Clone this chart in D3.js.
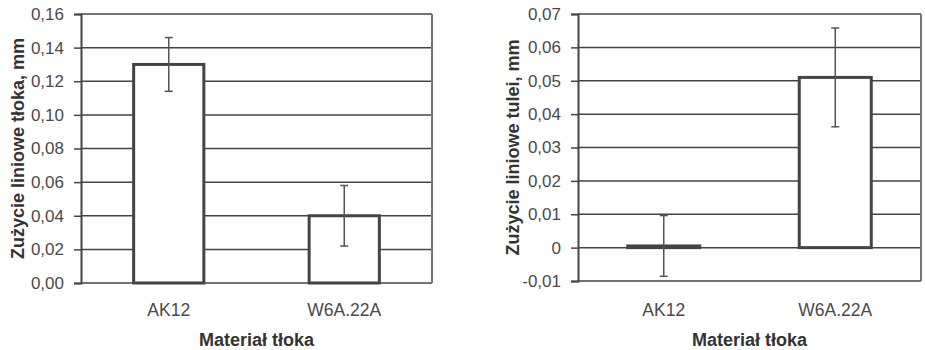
<!DOCTYPE html>
<html>
<head>
<meta charset="utf-8">
<script src="https://cdn.jsdelivr.net/npm/d3@7"></script>
<style>
  body { margin: 0; background: #fff; }
  svg { display: block; font-family: "Liberation Sans", Arial, sans-serif; }
</style>
</head>
<body>
<svg id="chart" width="925" height="350"></svg>
<script>
// values
const categories = ['AK12', 'W6A.22A'];

const pistonWear = [0.13, 0.04];
const pistonErr = [0.016, 0.018];
const pistonTicks = [0, 0.02, 0.04, 0.06, 0.08, 0.10, 0.12, 0.14, 0.16];

const linerWear = [0.0005, 0.051];
const linerErr = [0.0091, 0.0148];
const linerTicks = [-0.01, 0, 0.01, 0.02, 0.03, 0.04, 0.05, 0.06, 0.07];

const xTitle = 'Materiał tłoka';
const pistonTitle = 'Zużycie liniowe tłoka, mm';
const linerTitle = 'Zużycie liniowe tulei, mm';

const locale = d3.formatLocale({decimal: ',', thousands: ' ', grouping: [3], currency: ['', ''], minus: '-'});
const f2 = locale.format('.2f');

const svg = d3.select('#chart');

function drawPanel(opt) {
  const g = svg.append('g');
  const y = d3.scaleLinear().domain(opt.domain).range([opt.bottom, opt.top]);
  const x = d3.scaleBand()
      .domain(categories)
      .range([opt.left, opt.right])
      .paddingInner(opt.pad)
      .paddingOuter(opt.pad / 2);

  // grid lines
  g.selectAll('line.grid')
      .data(opt.ticks)
      .enter()
      .append('line')
      .attr('x1', opt.left)
      .attr('x2', opt.right)
      .attr('y1', d => y(d))
      .attr('y2', d => y(d))
      .attr('stroke', '#444')
      .attr('stroke-width', 1.5);

  // frame right side
  g.append('line')
      .attr('x1', opt.right).attr('x2', opt.right)
      .attr('y1', opt.top).attr('y2', opt.bottom)
      .attr('stroke', '#777').attr('stroke-width', 2);

  // y axis
  const axis = g.append('g')
      .attr('transform', 'translate(' + opt.left + ',0)')
      .call(d3.axisLeft(y).tickValues(opt.ticks).tickFormat(opt.fmt).tickSize(7).tickPadding(10));
  axis.select('.domain').attr('stroke', '#444').attr('stroke-width', 2);
  axis.selectAll('.tick line').attr('stroke', '#444').attr('stroke-width', 1.5);
  axis.selectAll('text')
      .attr('font-size', 17)
      .attr('fill', '#4a4a4a')
      .attr('font-family', '"Liberation Sans", Arial, sans-serif');

  // bars
  g.selectAll('rect.bar')
      .data(opt.values)
      .enter()
      .append('rect')
      .attr('x', (d, i) => x(categories[i]))
      .attr('y', d => y(Math.max(0, d)))
      .attr('width', x.bandwidth())
      .attr('height', d => Math.abs(y(d) - y(0)))
      .attr('fill', '#fff')
      .attr('stroke', '#444')
      .attr('stroke-width', 3);

  // error bars
  const eb = g.selectAll('g.err')
      .data(opt.values)
      .enter()
      .append('g')
      .attr('stroke', '#555')
      .attr('stroke-width', 1.5);
  const cx = (d, i) => x(categories[i]) + x.bandwidth() / 2;
  eb.append('line')
      .attr('x1', cx).attr('x2', cx)
      .attr('y1', (d, i) => y(d + opt.errs[i]))
      .attr('y2', (d, i) => y(d - opt.errs[i]));
  [1, -1].forEach(s => {
    eb.append('line')
        .attr('x1', (d, i) => cx(d, i) - 4)
        .attr('x2', (d, i) => cx(d, i) + 4)
        .attr('y1', (d, i) => y(d + s * opt.errs[i]))
        .attr('y2', (d, i) => y(d + s * opt.errs[i]));
  });

  // category labels
  g.selectAll('text.cat')
      .data(categories)
      .enter()
      .append('text')
      .attr('x', d => x(d) + x.bandwidth() / 2)
      .attr('y', 316)
      .attr('text-anchor', 'middle')
      .attr('font-size', 17.5)
      .attr('fill', '#4a4a4a')
      .text(d => d);

  // axis titles
  g.append('text')
      .attr('x', (opt.left + opt.right) / 2)
      .attr('y', 346)
      .attr('text-anchor', 'middle')
      .attr('font-size', 18)
      .attr('font-weight', 'bold')
      .attr('fill', '#333')
      .text(xTitle);

  g.append('text')
      .attr('transform', 'translate(' + opt.titleX + ',' + (opt.top + opt.bottom) / 2 + ')rotate(-90)')
      .attr('text-anchor', 'middle')
      .attr('dy', '0.35em')
      .attr('font-size', 18)
      .attr('font-weight', 'bold')
      .attr('fill', '#333')
      .text(opt.title);
}

drawPanel({
  left: 81, right: 432, top: 14, bottom: 283,
  domain: [0, 0.16], ticks: pistonTicks, fmt: f2,
  values: pistonWear, errs: pistonErr, pad: 0.6,
  title: pistonTitle, titleX: 18
});

drawPanel({
  left: 578, right: 921, top: 14, bottom: 281,
  domain: [-0.01, 0.07], ticks: linerTicks, fmt: d => d === 0 ? '0' : f2(d),
  values: linerWear, errs: linerErr, pad: 0.58,
  title: linerTitle, titleX: 513
});
</script>
</body>
</html>
